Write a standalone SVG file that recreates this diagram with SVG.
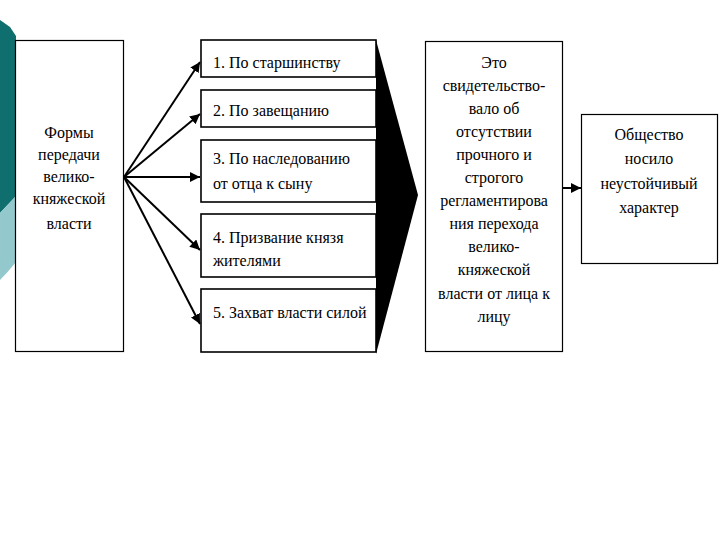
<svg xmlns="http://www.w3.org/2000/svg" width="720" height="540" viewBox="0 0 720 540">
<defs>
<style>
.box{fill:#fff;stroke:#000;stroke-width:1.2}
.mbox{fill:#fff;stroke:#000;stroke-width:1.6}
.c{text-anchor:middle}
.conn{stroke:#000;stroke-width:2;fill:none}
</style>
<marker id="ah" viewBox="0 0 10 10" refX="10" refY="5" markerWidth="5" markerHeight="5" orient="auto" markerUnits="strokeWidth">
<path d="M0,0 L10,5 L0,10 Z" fill="#000"/>
</marker>
</defs>
<rect width="720" height="540" fill="#fff"/>
<g id="decor">
<path d="M0,20 L10,27 L16,36 L16,196 L0,213 Z" fill="#0f6e6e"/>
<path d="M0,213 L16,196 L16,262 Q8,272 0,280 Z" fill="#93c9cc"/>
</g>
<g font-family="Liberation Serif, Times New Roman, serif" font-size="16" fill="#000">
<g id="n-forms">
<rect class="box" x="15.5" y="40.5" width="108" height="311"/>
<text class="c" x="69" y="138">Формы</text>
<text class="c" x="69" y="160">передачи</text>
<text class="c" x="69" y="182">велико-</text>
<text class="c" x="69" y="204">княжеской</text>
<text class="c" x="69" y="229">власти</text>
</g>
<g id="n-bigarrow">
<path d="M376,40 L418,195 L376,354 Z" fill="#000"/>
</g>
<g id="n-1">
<rect class="mbox" x="201" y="40" width="175" height="37"/>
<text x="213" y="68">1. По старшинству</text>
</g>
<g id="n-2">
<rect class="mbox" x="201" y="90" width="175" height="37"/>
<text x="213" y="116">2. По завещанию</text>
</g>
<g id="n-3">
<rect class="mbox" x="201" y="140" width="175" height="62"/>
<text x="213" y="164">3. По наследованию</text>
<text x="213" y="189">от отца к сыну</text>
</g>
<g id="n-4">
<rect class="mbox" x="201" y="214" width="175" height="63"/>
<text x="213" y="243">4. Призвание князя</text>
<text x="213" y="266">жителями</text>
</g>
<g id="n-5">
<rect class="mbox" x="201" y="289" width="175" height="63"/>
<text x="213" y="318">5. Захват власти силой</text>
</g>
<g id="n-evidence">
<rect class="box" x="425.5" y="41.5" width="137" height="310"/>
<text class="c" x="494" y="68">Это</text>
<text class="c" x="494" y="91">свидетельство-</text>
<text class="c" x="494" y="114">вало об</text>
<text class="c" x="494" y="137">отсутствии</text>
<text class="c" x="494" y="160">прочного и</text>
<text class="c" x="494" y="183">строгого</text>
<text class="c" x="494" y="206">регламентирова</text>
<text class="c" x="494" y="229">ния перехода</text>
<text class="c" x="494" y="252">велико-</text>
<text class="c" x="494" y="275">княжеской</text>
<text class="c" x="494" y="299">власти от лица к</text>
<text class="c" x="494" y="322">лицу</text>
</g>
<g id="n-society">
<rect class="box" x="581.5" y="114.5" width="136" height="149"/>
<text class="c" x="649" y="140">Общество</text>
<text class="c" x="649" y="164">носило</text>
<text class="c" x="649" y="189">неустойчивый</text>
<text class="c" x="649" y="213">характер</text>
</g>
</g>
<g id="connectors">
<line class="conn" x1="124" y1="177" x2="200" y2="62" marker-end="url(#ah)"/>
<line class="conn" x1="124" y1="177" x2="200" y2="114" marker-end="url(#ah)"/>
<line class="conn" x1="124" y1="177" x2="200" y2="177" marker-end="url(#ah)"/>
<line class="conn" x1="124" y1="177" x2="200" y2="250" marker-end="url(#ah)"/>
<line class="conn" x1="124" y1="177" x2="200" y2="324" marker-end="url(#ah)"/>
<line class="conn" x1="563" y1="188" x2="581" y2="188" marker-end="url(#ah)"/>
</g>
</svg>
